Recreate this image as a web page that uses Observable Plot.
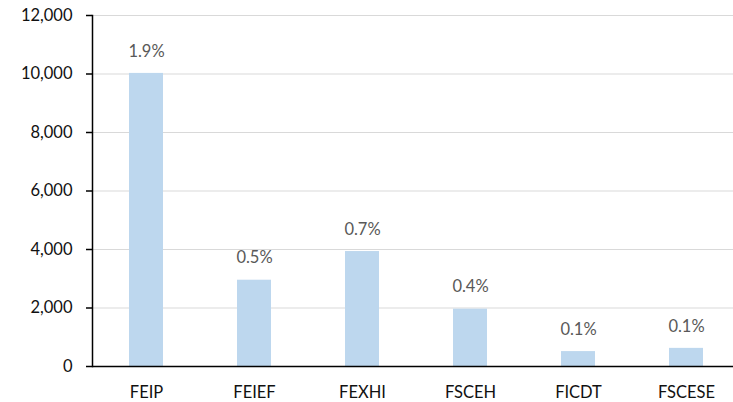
<!DOCTYPE html>
<html>
<head>
<meta charset="utf-8">
<script src="https://cdn.jsdelivr.net/npm/d3@7"></script>
<script src="https://cdn.jsdelivr.net/npm/@observablehq/plot@0.6"></script>
<style>
  html, body { margin: 0; padding: 0; background: #fff; }
  #chart svg { display: block; }
</style>
</head>
<body>
<div id="chart"></div>
<script>
const categories = ["FEIP", "FEIEF", "FEXHI", "FSCEH", "FICDT", "FSCESE"];
const values = [10020, 2950, 3930, 1960, 510, 620];
const shares = ["1.9%", "0.5%", "0.7%", "0.4%", "0.1%", "0.1%"];
const yTicks = [0, 2000, 4000, 6000, 8000, 10000, 12000];

const data = categories.map((c, i) => ({cat: c, value: values[i], share: shares[i]}));

const chart = Plot.plot({
  width: 733,
  height: 402,
  marginTop: 15,
  marginBottom: 36,
  marginLeft: 92,
  marginRight: 0,
  style: {fontFamily: "Lato, sans-serif", fontSize: "16.5px", background: "#fff", color: "#111"},
  x: {domain: categories, range: [92, 740], paddingInner: 0.685, paddingOuter: 0.3425, label: null},
  y: {domain: [0, 12000], label: null},
  marks: [
    Plot.gridY(yTicks.filter(d => d > 0), {stroke: "#d9d9d9", strokeOpacity: 1, strokeWidth: 1}),
    Plot.barY(data, {x: "cat", y: "value", fill: "#BDD7EE"}),
    Plot.text(data, {x: "cat", y: "value", text: "share", dy: -22, fill: "#595959", fontSize: 16.5}),
    Plot.ruleY([0], {stroke: "#000", strokeWidth: 1.5}),
    Plot.frame({anchor: "left", stroke: "#000", strokeWidth: 1.5}),
    Plot.axisY({ticks: yTicks, tickFormat: d3.format(","), tickSize: 6, tickPadding: 14, stroke: "#000", strokeWidth: 1.5, label: null, fill: "#111"}),
    Plot.axisX({tickSize: 0, tickPadding: 20, label: null, fill: "#111"})
  ]
});
document.getElementById("chart").appendChild(chart);
</script>
</body>
</html>
